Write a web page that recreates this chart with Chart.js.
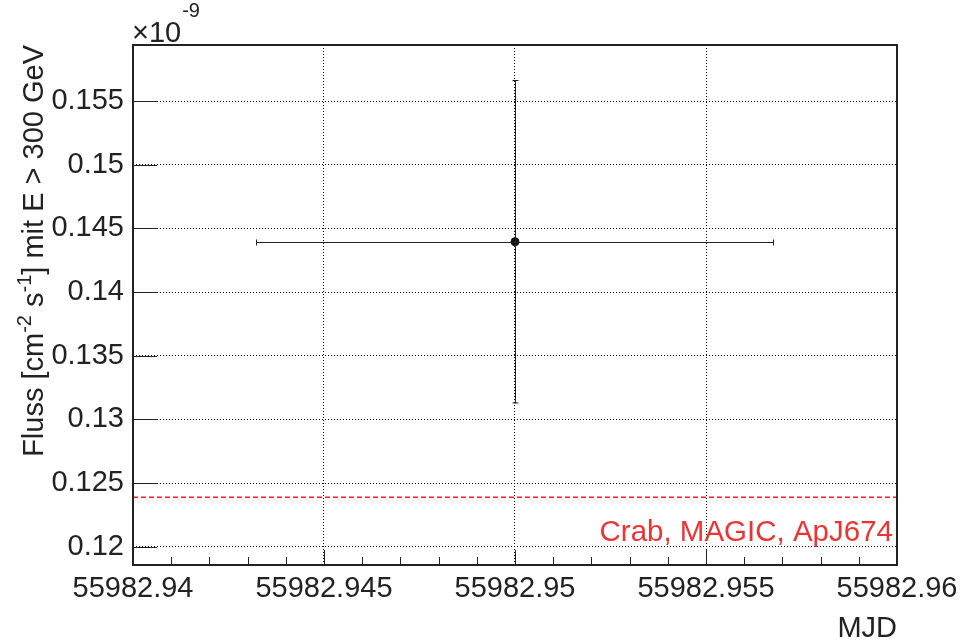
<!DOCTYPE html>
<html>
<head>
<meta charset="utf-8">
<script src="https://cdn.jsdelivr.net/npm/chart.js@4/dist/chart.umd.min.js"></script>
<style>
  html, body { margin: 0; padding: 0; background: #fff; }
  #wrap { width: 961px; height: 643px; position: relative; }
</style>
</head>
<body>
<div id="wrap"><canvas id="fluxChart" width="961" height="643"></canvas></div>
<script>
// light curve values, flux in units of 1e-9 cm^-2 s^-1
const mjd = [55982.95]
const flux = [0.14395]
const mjdErr = [0.00678]
const fluxErr = [0.0127]

// crab reference flux (MAGIC, ApJ674)
const crabFlux = 0.12388
const crabLabel = 'Crab, MAGIC, ApJ674'

const xTicks = [55982.94, 55982.945, 55982.95, 55982.955, 55982.96]
const yTicks = [0.12, 0.125, 0.13, 0.135, 0.14, 0.145, 0.15, 0.155]
const xMin = 55982.94, xMax = 55982.96
const yMin = 0.11856, yMax = 0.1594

const FONT = "'Liberation Sans', Arial, Helvetica, sans-serif"

const points = mjd.map((x, i) => ({ x: x, y: flux[i] }))

const rootFrame = {
    id: 'rootFrame',
    afterDatasetsDraw(chart) {
        const ctx = chart.ctx
        const xs = chart.scales.x
        const ys = chart.scales.y

        // error bars
        ctx.save()
        ctx.strokeStyle = '#222'
        ctx.lineWidth = 1
        points.forEach((p, i) => {
            const px = Math.round(xs.getPixelForValue(p.x)) + 0.5
            const py = Math.round(ys.getPixelForValue(p.y)) + 0.5
            const x0 = xs.getPixelForValue(p.x - mjdErr[i])
            const x1 = xs.getPixelForValue(p.x + mjdErr[i])
            const y0 = ys.getPixelForValue(p.y - fluxErr[i])
            const y1 = ys.getPixelForValue(p.y + fluxErr[i])
            ctx.beginPath()
            ctx.moveTo(x0, py); ctx.lineTo(x1, py)
            ctx.moveTo(px, y0); ctx.lineTo(px, y1)
            // end caps
            ctx.moveTo(x0 + 0.5, py - 3); ctx.lineTo(x0 + 0.5, py + 3)
            ctx.moveTo(x1 - 0.5, py - 3); ctx.lineTo(x1 - 0.5, py + 3)
            ctx.moveTo(px - 3, y0 - 0.5); ctx.lineTo(px + 3, y0 - 0.5)
            ctx.moveTo(px - 3, y1 + 0.5); ctx.lineTo(px + 3, y1 + 0.5)
            ctx.stroke()
        })
        ctx.restore()
    },
    afterDraw(chart) {
        const ctx = chart.ctx
        const xs = chart.scales.x
        const ys = chart.scales.y
        const a = chart.chartArea
        ctx.save()

        // tick marks inside the frame
        ctx.strokeStyle = '#222'
        ctx.lineWidth = 1
        ctx.beginPath()
        yTicks.forEach(v => {
            const py = Math.round(ys.getPixelForValue(v)) + 0.5
            ctx.moveTo(a.left, py); ctx.lineTo(a.left + 24, py)
        })
        for (let k = 1; k < 20; k++) {
            const v = xMin + k * 0.001
            const px = Math.round(xs.getPixelForValue(v)) + 0.5
            const len = (k % 5 === 0) ? 15 : 8
            ctx.moveTo(px, a.bottom); ctx.lineTo(px, a.bottom - len)
        }
        ctx.stroke()

        // frame
        ctx.lineWidth = 2
        ctx.strokeStyle = '#222'
        ctx.strokeRect(a.left, a.top, a.right - a.left, a.bottom - a.top)

        // crab label
        ctx.fillStyle = '#ee3333'
        ctx.font = '29.5px ' + FONT
        ctx.textAlign = 'right'
        ctx.textBaseline = 'alphabetic'
        ctx.fillText(crabLabel, a.right - 4, 541)

        // exponent label
        ctx.fillStyle = '#222'
        ctx.textAlign = 'left'
        ctx.font = '29px ' + FONT
        ctx.fillText('\u00d710', a.left - 1, 42)
        const w = ctx.measureText('\u00d710').width
        ctx.font = '20px ' + FONT
        ctx.fillText('-9', a.left + w, 17)

        // y axis title with superscripts
        const parts = [
            ['Fluss [cm', false], ['-2', true], [' s', false], ['-1', true],
            ['] mit E > 300 GeV', false]
        ]
        const big = '29px ' + FONT, small = '20px ' + FONT
        let total = 0
        parts.forEach(([t, sup]) => {
            ctx.font = sup ? small : big
            total += ctx.measureText(t).width
        })
        ctx.translate(43, a.top)
        ctx.rotate(-Math.PI / 2)
        let pos = -total
        parts.forEach(([t, sup]) => {
            ctx.font = sup ? small : big
            ctx.fillText(t, pos, sup ? -12 : 0)
            pos += ctx.measureText(t).width
        })
        ctx.restore()
    }
}

const config = {
    type: 'scatter',
    data: {
        datasets: [
            {
                label: 'Flux',
                data: points,
                pointRadius: 4,
                pointBackgroundColor: '#111',
                pointBorderColor: '#111',
                showLine: false,
            },
            {
                type: 'line',
                label: crabLabel,
                data: [{ x: xMin, y: crabFlux }, { x: xMax, y: crabFlux }],
                borderColor: '#f02020',
                borderWidth: 1.3,
                borderDash: [5, 3],
                pointRadius: 0,
                fill: false,
            }
        ]
    },
    options: {
        responsive: false,
        animation: false,
        events: [],
        layout: { padding: { left: 0, top: 45, right: 64, bottom: 0 } },
        plugins: {
            legend: { display: false },
            tooltip: { enabled: false },
            title: { display: false }
        },
        scales: {
            x: {
                type: 'linear',
                min: xMin,
                max: xMax,
                afterBuildTicks: (scale) => { scale.ticks = xTicks.map(v => ({ value: v })) },
                afterFit: (scale) => {
                    scale.height = 78
                    scale.paddingLeft = 0
                    scale.paddingRight = 0
                },
                ticks: {
                    autoSkip: false,
                    maxRotation: 0,
                    padding: 7,
                    color: '#222',
                    font: { family: FONT, size: 29 },
                    callback: (v) => String(v)
                },
                grid: { color: '#000', lineWidth: 1, drawTicks: false },
                border: { display: false, dash: [1, 2] },
                title: {
                    display: true,
                    text: 'MJD',
                    align: 'end',
                    color: '#222',
                    font: { family: FONT, size: 29 },
                    padding: { top: 0, bottom: -3 }
                }
            },
            y: {
                type: 'linear',
                min: yMin,
                max: yMax,
                afterBuildTicks: (scale) => { scale.ticks = yTicks.map(v => ({ value: v })) },
                afterFit: (scale) => {
                    scale.width = 133
                    scale.paddingTop = 0
                    scale.paddingBottom = 0
                },
                ticks: {
                    autoSkip: false,
                    padding: 9,
                    color: '#222',
                    font: { family: FONT, size: 29 },
                    callback: (v) => String(v)
                },
                grid: { color: '#000', lineWidth: 1, drawTicks: false },
                border: { display: false, dash: [1, 2] }
            }
        }
    },
    plugins: [rootFrame]
}

const chart = new Chart(document.getElementById('fluxChart').getContext('2d'), config)
</script>
</body>
</html>
